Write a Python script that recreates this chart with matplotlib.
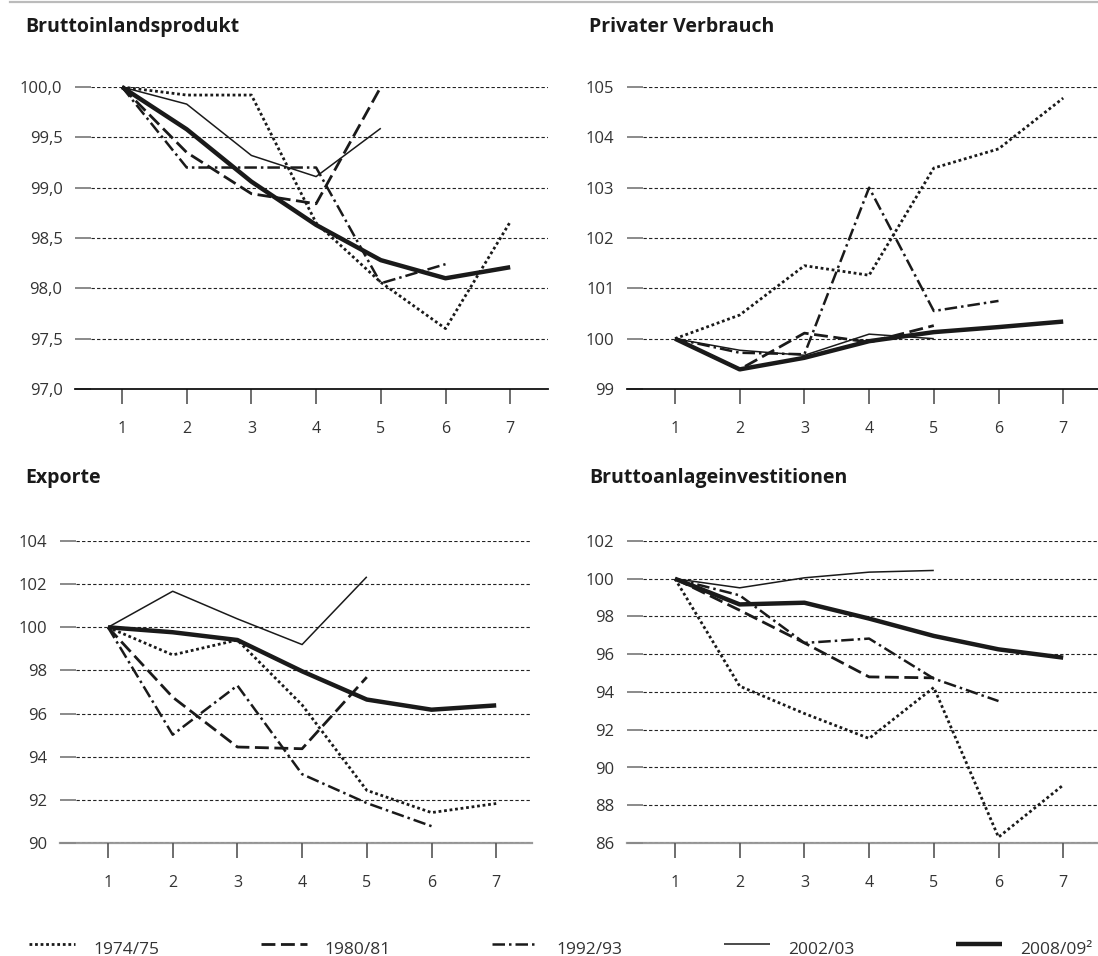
import matplotlib.pyplot as plt
from matplotlib.lines import Line2D

plt.rcParams['font.family'] = ['Open Sans', 'DejaVu Sans']

W, H, DPI = 1098, 956, 100

# Daten: Index, erstes Quartal = 100
quartale = [1, 2, 3, 4, 5, 6, 7]
perioden = ['1974/75', '1980/81', '1992/93', '2002/03', '2008/09²']

# Bruttoinlandsprodukt
bip_7475 = [100, 99.92, 99.92, 98.65, 98.06, 97.6, 98.66]
bip_8081 = [100, 99.35, 98.94, 98.84, 100.0]
bip_9293 = [100, 99.2, 99.2, 99.2, 98.05, 98.24]
bip_0203 = [100, 99.83, 99.32, 99.11, 99.59]
bip_0809 = [100, 99.58, 99.06, 98.63, 98.28, 98.1, 98.21]

# Privater Verbrauch
pv_7475 = [100, 100.47, 101.45, 101.26, 103.39, 103.77, 104.78]
pv_8081 = [100, 99.39, 100.11, 99.93, 100.26]
pv_9293 = [100, 99.72, 99.69, 103.0, 100.55, 100.75]
pv_0203 = [100, 99.77, 99.67, 100.09, 100.0]
pv_0809 = [100, 99.39, 99.62, 99.95, 100.13, 100.23, 100.34]

# Exporte
ex_7475 = [100, 98.72, 99.41, 96.4, 92.44, 91.41, 91.83]
ex_8081 = [100, 96.76, 94.45, 94.37, 97.69]
ex_9293 = [100, 95.02, 97.3, 93.19, 91.85, 90.78]
ex_0203 = [100, 101.67, 100.39, 99.2, 102.34]
ex_0809 = [100, 99.77, 99.41, 97.96, 96.65, 96.18, 96.38]

# Bruttoanlageinvestitionen
bai_7475 = [100, 94.31, 92.86, 91.54, 94.24, 86.31, 89.07]
bai_8081 = [100, 98.33, 96.6, 94.8, 94.75]
bai_9293 = [100, 99.12, 96.6, 96.83, 94.71, 93.52]
bai_0203 = [100, 99.52, 100.05, 100.35, 100.44]
bai_0809 = [100, 98.64, 98.73, 97.89, 96.97, 96.26, 95.82]

bip_ticks = [97.0, 97.5, 98.0, 98.5, 99.0, 99.5, 100.0]
pv_ticks = [99, 100, 101, 102, 103, 104, 105]
ex_ticks = [90, 92, 94, 96, 98, 100, 102, 104]
bai_ticks = [86, 88, 90, 92, 94, 96, 98, 100, 102]

farbe = '#1a1a1a'
stile = [
    dict(ls=(0, (1, 1.0)), lw=2.0),
    dict(ls=(0, (5, 2)), lw=2.0),
    dict(ls=(0, (5, 1.6, 1, 1.6)), lw=1.8),
    dict(ls='-', lw=1.1),
    dict(ls='-', lw=3.2),
]

fig = plt.figure(figsize=(W / DPI, H / DPI), dpi=DPI)


def panel(left, right, top, bottom, x1, titel, tx, ty, ticks, labels, reihen, untere_linie):
    ax = fig.add_axes([left / W, 1 - bottom / H, (right - left) / W, (bottom - top) / H])
    dx = 64.7
    ax.set_xlim(1 - (x1 - left) / dx, 1 + (right - x1) / dx)
    ax.set_ylim(ticks[0], ticks[-1])
    for werte, st in zip(reihen, stile):
        ax.plot(quartale[:len(werte)], werte, color=farbe, clip_on=False,
                dash_capstyle='butt', solid_capstyle='butt', zorder=3, **st)
    for y in ticks:
        if y == ticks[0] and untere_linie == 'schwarz':
            continue
        ax.axhline(y, color='#222', lw=0.8, ls=(0, (3, 2)), zorder=1)
    for s in ax.spines.values():
        s.set_visible(False)
    ax.set_yticks(ticks, labels)
    ax.set_xticks(quartale)
    ax.tick_params(axis='y', length=11.5, width=1.4, color='#8a8a8a', pad=9,
                   labelsize=12, labelcolor='#333')
    ax.tick_params(axis='x', length=11, width=1.2, color='#555', pad=12,
                   labelsize=11.5, labelcolor='#333')
    start = -16 / (right - left)
    if untere_linie == 'schwarz':
        ax.plot([start, 1], [ticks[0], ticks[0]], transform=ax.get_yaxis_transform(),
                color='#111', lw=1.3, clip_on=False, zorder=2)
    else:
        ax.plot([start, 1], [ticks[0], ticks[0]], transform=ax.get_yaxis_transform(),
                color='#9a9a9a', lw=1.6, clip_on=False, zorder=0)
    fig.text(tx / W, 1 - ty / H, titel, fontsize=14, fontweight='bold',
             color=farbe, ha='left', va='center')
    return ax


panel(91, 548, 87, 389, 122, 'Bruttoinlandsprodukt', 25, 27,
      bip_ticks, [f'{t:.1f}'.replace('.', ',') for t in bip_ticks],
      [bip_7475, bip_8081, bip_9293, bip_0203, bip_0809], 'schwarz')
panel(643, 1098, 87, 389, 675, 'Privater Verbrauch', 589, 27,
      pv_ticks, [str(t) for t in pv_ticks],
      [pv_7475, pv_8081, pv_9293, pv_0203, pv_0809], 'schwarz')
panel(76, 532, 541, 843, 108, 'Exporte', 25, 478,
      ex_ticks, [str(t) for t in ex_ticks],
      [ex_7475, ex_8081, ex_9293, ex_0203, ex_0809], 'grau')
panel(643, 1098, 541, 843, 675, 'Bruttoanlageinvestitionen', 589, 478,
      bai_ticks, [str(t) for t in bai_ticks],
      [bai_7475, bai_8081, bai_9293, bai_0203, bai_0809], 'grau')

# graue Linie oben
fig.add_artist(Line2D([10 / W, 1], [1 - 1.5 / H] * 2, color='#bbbbbb', lw=1.6))

# Legende
for i, (name, st) in enumerate(zip(perioden, stile)):
    x0 = 29 + 231.7 * i
    fig.add_artist(Line2D([x0 / W, (x0 + 46) / W], [1 - 944 / H] * 2, color=farbe,
                          dash_capstyle='butt', solid_capstyle='butt', **st))
    fig.text((x0 + 64) / W, 1 - 954 / H, name, fontsize=12.5, color='#333',
             ha='left', va='baseline')

fig.savefig('out.png', dpi=DPI)
